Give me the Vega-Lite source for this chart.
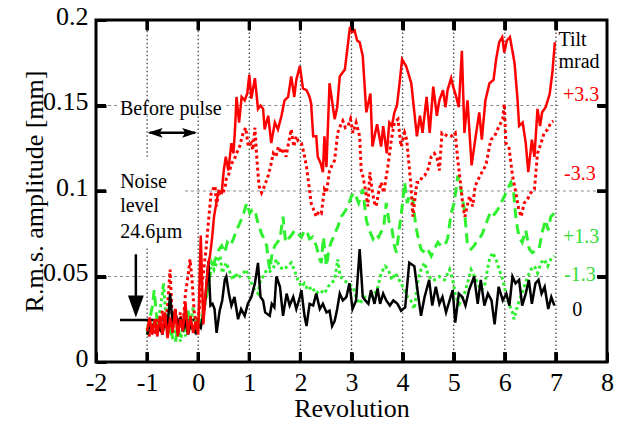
{
"$schema": "https://vega.github.io/schema/vega-lite/v6.json",
"width": 511, "height": 342,
"autosize": {"type": "none"},
"padding": {"left": 96, "top": 20, "right": 11, "bottom": 59},
"background": "white",
"config": {"view": {"stroke": "black", "strokeWidth": 3}, "font": "Liberation Serif"},
"resolve": {"axis": {"x": "independent", "y": "independent"}},
"datasets": {
"vgrid": [
{"x": -1, "y": 0, "y2": 0.0676}, {"x": -1, "y": 0.12, "y2": 0.144}, {"x": -1, "y": 0.153, "y2": 0.2},
{"x": 0, "y": 0, "y2": 0.144}, {"x": 0, "y": 0.153, "y2": 0.2},
{"x": 1, "y": 0, "y2": 0.2}, {"x": 2, "y": 0, "y2": 0.2}, {"x": 3, "y": 0, "y2": 0.2}, {"x": 4, "y": 0, "y2": 0.2},
{"x": 5, "y": 0, "y2": 0.2}, {"x": 6, "y": 0, "y2": 0.2}, {"x": 7, "y": 0, "y2": 0.2}
],
"hgrid": [
{"y": 0.15, "x": -2, "x2": -1.53}, {"y": 0.15, "x": 0.55, "x2": 7.05},
{"y": 0.1, "x": -0.26, "x2": 8},
{"y": 0.05, "x": -2, "x2": 7.05}
],
"tickmarks": [
{"x": -1, "x2": -1, "y": 0, "y2": 0.00585}, {"x": 0, "x2": 0, "y": 0, "y2": 0.00585}, {"x": 1, "x2": 1, "y": 0, "y2": 0.00585},
{"x": 2, "x2": 2, "y": 0, "y2": 0.00585}, {"x": 3, "x2": 3, "y": 0, "y2": 0.00585}, {"x": 4, "x2": 4, "y": 0, "y2": 0.00585},
{"x": 5, "x2": 5, "y": 0, "y2": 0.00585}, {"x": 6, "x2": 6, "y": 0, "y2": 0.00585}, {"x": 7, "x2": 7, "y": 0, "y2": 0.00585},
{"x": -1, "x2": -1, "y": 0.19415, "y2": 0.2}, {"x": 0, "x2": 0, "y": 0.19415, "y2": 0.2}, {"x": 1, "x2": 1, "y": 0.19415, "y2": 0.2},
{"x": 2, "x2": 2, "y": 0.19415, "y2": 0.2}, {"x": 3, "x2": 3, "y": 0.19415, "y2": 0.2}, {"x": 4, "x2": 4, "y": 0.19415, "y2": 0.2},
{"x": 5, "x2": 5, "y": 0.19415, "y2": 0.2}, {"x": 6, "x2": 6, "y": 0.19415, "y2": 0.2}, {"x": 7, "x2": 7, "y": 0.19415, "y2": 0.2},
{"x": -2, "x2": -1.805, "y": 0.05, "y2": 0.05}, {"x": -2, "x2": -1.805, "y": 0.1, "y2": 0.1}, {"x": -2, "x2": -1.805, "y": 0.15, "y2": 0.15},
{"x": 7.805, "x2": 8, "y": 0.05, "y2": 0.05}, {"x": 7.805, "x2": 8, "y": 0.1, "y2": 0.1}, {"x": 7.805, "x2": 8, "y": 0.15, "y2": 0.15}
],
"tk": [
{"o": "v", "x": -1, "y": 0.0029}, {"o": "v", "x": 0, "y": 0.0029}, {"o": "v", "x": 1, "y": 0.0029}, {"o": "v", "x": 2, "y": 0.0029}, {"o": "v", "x": 3, "y": 0.0029},
{"o": "v", "x": 4, "y": 0.0029}, {"o": "v", "x": 5, "y": 0.0029}, {"o": "v", "x": 6, "y": 0.0029}, {"o": "v", "x": 7, "y": 0.0029},
{"o": "v", "x": -1, "y": 0.1971}, {"o": "v", "x": 0, "y": 0.1971}, {"o": "v", "x": 1, "y": 0.1971}, {"o": "v", "x": 2, "y": 0.1971}, {"o": "v", "x": 3, "y": 0.1971},
{"o": "v", "x": 4, "y": 0.1971}, {"o": "v", "x": 5, "y": 0.1971}, {"o": "v", "x": 6, "y": 0.1971}, {"o": "v", "x": 7, "y": 0.1971},
{"o": "h", "x": -1.9025, "y": 0.05}, {"o": "h", "x": -1.9025, "y": 0.1}, {"o": "h", "x": -1.9025, "y": 0.15},
{"o": "h", "x": 7.9025, "y": 0.05}, {"o": "h", "x": 7.9025, "y": 0.1}, {"o": "h", "x": 7.9025, "y": 0.15}
],
"segs": [
{"k": "noise", "x": -1.53, "x2": 0.03, "y": 0.0246, "y2": 0.0246},
{"k": "pulse", "x": -0.95, "x2": -0.06, "y": 0.134, "y2": 0.134},
{"k": "down", "x": -1.22, "x2": -1.22, "y": 0.063, "y2": 0.036}
],
"heads": [
{"k": "left", "x": -0.99, "y": 0.134},
{"k": "right", "x": -0.02, "y": 0.134},
{"k": "down", "x": -1.22, "y": 0.026}
],
"notes": [
{"t": "Before pulse", "x": -1.53, "y": 0.1446, "g": "note"},
{"t": "Noise", "x": -1.527, "y": 0.1018, "g": "note"},
{"t": "level", "x": -1.527, "y": 0.0876, "g": "note"},
{"t": "24.6µm", "x": -1.527, "y": 0.0725, "g": "note"},
{"t": "Tilt", "x": 7.05, "y": 0.1846, "g": "note"},
{"t": "mrad", "x": 7.05, "y": 0.1721, "g": "note"},
{"t": "+3.3", "x": 7.14, "y": 0.1524, "g": "+3.3"},
{"t": "-3.3", "x": 7.16, "y": 0.1066, "g": "-3.3"},
{"t": "+1.3", "x": 7.14, "y": 0.0696, "g": "+1.3"},
{"t": "-1.3", "x": 7.16, "y": 0.0471, "g": "-1.3"},
{"t": "0", "x": 7.32, "y": 0.0267, "g": "0"}
],
"curves": [
{"s":"+3.3","x":-1.00,"y":0.018},{"s":"+3.3","x":-0.95,"y":0.026},{"s":"+3.3","x":-0.90,"y":0.016},{"s":"+3.3","x":-0.85,"y":0.025},{"s":"+3.3","x":-0.80,"y":0.015},{"s":"+3.3","x":-0.75,"y":0.027},{"s":"+3.3","x":-0.70,"y":0.016},{"s":"+3.3","x":-0.65,"y":0.029},{"s":"+3.3","x":-0.60,"y":0.014},{"s":"+3.3","x":-0.55,"y":0.026},{"s":"+3.3","x":-0.50,"y":0.017},{"s":"+3.3","x":-0.45,"y":0.031},{"s":"+3.3","x":-0.40,"y":0.015},{"s":"+3.3","x":-0.35,"y":0.025},{"s":"+3.3","x":-0.30,"y":0.018},{"s":"+3.3","x":-0.25,"y":0.035},{"s":"+3.3","x":-0.20,"y":0.016},{"s":"+3.3","x":-0.15,"y":0.027},{"s":"+3.3","x":-0.10,"y":0.017},{"s":"+3.3","x":-0.05,"y":0.024},{"s":"+3.3","x":0.00,"y":0.016},{"s":"+3.3","x":0.05,"y":0.074},{"s":"+3.3","x":0.10,"y":0.022},{"s":"+3.3","x":0.16,"y":0.046},{"s":"+3.3","x":0.20,"y":0.058},{"s":"+3.3","x":0.23,"y":0.062},{"s":"+3.3","x":0.27,"y":0.072},{"s":"+3.3","x":0.31,"y":0.085},{"s":"+3.3","x":0.36,"y":0.094},{"s":"+3.3","x":0.40,"y":0.100},{"s":"+3.3","x":0.46,"y":0.099},{"s":"+3.3","x":0.50,"y":0.112},{"s":"+3.3","x":0.54,"y":0.120},{"s":"+3.3","x":0.59,"y":0.112},{"s":"+3.3","x":0.65,"y":0.128},{"s":"+3.3","x":0.69,"y":0.122},{"s":"+3.3","x":0.72,"y":0.136},{"s":"+3.3","x":0.75,"y":0.155},{"s":"+3.3","x":0.80,"y":0.140},{"s":"+3.3","x":0.85,"y":0.155},{"s":"+3.3","x":0.91,"y":0.153},{"s":"+3.3","x":0.96,"y":0.157},{"s":"+3.3","x":1.00,"y":0.168},{"s":"+3.3","x":1.04,"y":0.154},{"s":"+3.3","x":1.11,"y":0.166},{"s":"+3.3","x":1.17,"y":0.148},{"s":"+3.3","x":1.22,"y":0.150},{"s":"+3.3","x":1.27,"y":0.148},{"s":"+3.3","x":1.30,"y":0.136},{"s":"+3.3","x":1.37,"y":0.144},{"s":"+3.3","x":1.43,"y":0.128},{"s":"+3.3","x":1.50,"y":0.140},{"s":"+3.3","x":1.56,"y":0.136},{"s":"+3.3","x":1.63,"y":0.144},{"s":"+3.3","x":1.69,"y":0.153},{"s":"+3.3","x":1.76,"y":0.155},{"s":"+3.3","x":1.82,"y":0.167},{"s":"+3.3","x":1.88,"y":0.155},{"s":"+3.3","x":1.92,"y":0.165},{"s":"+3.3","x":1.99,"y":0.173},{"s":"+3.3","x":2.05,"y":0.160},{"s":"+3.3","x":2.12,"y":0.159},{"s":"+3.3","x":2.18,"y":0.155},{"s":"+3.3","x":2.21,"y":0.151},{"s":"+3.3","x":2.25,"y":0.132},{"s":"+3.3","x":2.31,"y":0.132},{"s":"+3.3","x":2.34,"y":0.120},{"s":"+3.3","x":2.40,"y":0.116},{"s":"+3.3","x":2.44,"y":0.111},{"s":"+3.3","x":2.47,"y":0.132},{"s":"+3.3","x":2.51,"y":0.114},{"s":"+3.3","x":2.57,"y":0.163},{"s":"+3.3","x":2.67,"y":0.142},{"s":"+3.3","x":2.72,"y":0.149},{"s":"+3.3","x":2.77,"y":0.167},{"s":"+3.3","x":2.87,"y":0.171},{"s":"+3.3","x":2.97,"y":0.196},{"s":"+3.3","x":3.01,"y":0.193},{"s":"+3.3","x":3.06,"y":0.194},{"s":"+3.3","x":3.11,"y":0.188},{"s":"+3.3","x":3.16,"y":0.187},{"s":"+3.3","x":3.22,"y":0.179},{"s":"+3.3","x":3.29,"y":0.146},{"s":"+3.3","x":3.37,"y":0.157},{"s":"+3.3","x":3.41,"y":0.126},{"s":"+3.3","x":3.50,"y":0.139},{"s":"+3.3","x":3.58,"y":0.126},{"s":"+3.3","x":3.62,"y":0.138},{"s":"+3.3","x":3.69,"y":0.122},{"s":"+3.3","x":3.74,"y":0.140},{"s":"+3.3","x":3.79,"y":0.138},{"s":"+3.3","x":3.84,"y":0.146},{"s":"+3.3","x":3.89,"y":0.150},{"s":"+3.3","x":3.94,"y":0.163},{"s":"+3.3","x":3.99,"y":0.177},{"s":"+3.3","x":4.07,"y":0.173},{"s":"+3.3","x":4.17,"y":0.163},{"s":"+3.3","x":4.23,"y":0.146},{"s":"+3.3","x":4.28,"y":0.132},{"s":"+3.3","x":4.34,"y":0.144},{"s":"+3.3","x":4.39,"y":0.134},{"s":"+3.3","x":4.47,"y":0.155},{"s":"+3.3","x":4.53,"y":0.134},{"s":"+3.3","x":4.60,"y":0.161},{"s":"+3.3","x":4.67,"y":0.144},{"s":"+3.3","x":4.72,"y":0.153},{"s":"+3.3","x":4.79,"y":0.159},{"s":"+3.3","x":4.84,"y":0.149},{"s":"+3.3","x":4.88,"y":0.159},{"s":"+3.3","x":4.95,"y":0.166},{"s":"+3.3","x":4.99,"y":0.161},{"s":"+3.3","x":5.05,"y":0.155},{"s":"+3.3","x":5.10,"y":0.149},{"s":"+3.3","x":5.16,"y":0.182},{"s":"+3.3","x":5.21,"y":0.134},{"s":"+3.3","x":5.27,"y":0.153},{"s":"+3.3","x":5.35,"y":0.115},{"s":"+3.3","x":5.44,"y":0.134},{"s":"+3.3","x":5.50,"y":0.146},{"s":"+3.3","x":5.55,"y":0.130},{"s":"+3.3","x":5.62,"y":0.153},{"s":"+3.3","x":5.70,"y":0.163},{"s":"+3.3","x":5.78,"y":0.165},{"s":"+3.3","x":5.83,"y":0.177},{"s":"+3.3","x":5.89,"y":0.187},{"s":"+3.3","x":5.95,"y":0.190},{"s":"+3.3","x":5.99,"y":0.181},{"s":"+3.3","x":6.04,"y":0.188},{"s":"+3.3","x":6.10,"y":0.190},{"s":"+3.3","x":6.19,"y":0.175},{"s":"+3.3","x":6.25,"y":0.153},{"s":"+3.3","x":6.28,"y":0.138},{"s":"+3.3","x":6.35,"y":0.140},{"s":"+3.3","x":6.41,"y":0.128},{"s":"+3.3","x":6.46,"y":0.111},{"s":"+3.3","x":6.53,"y":0.130},{"s":"+3.3","x":6.58,"y":0.120},{"s":"+3.3","x":6.64,"y":0.148},{"s":"+3.3","x":6.69,"y":0.138},{"s":"+3.3","x":6.73,"y":0.146},{"s":"+3.3","x":6.80,"y":0.149},{"s":"+3.3","x":6.88,"y":0.157},{"s":"+3.3","x":6.93,"y":0.169},{"s":"+3.3","x":6.98,"y":0.187},
{"s":"-3.3","x":-1.00,"y":0.020},{"s":"-3.3","x":-0.95,"y":0.015},{"s":"-3.3","x":-0.90,"y":0.023},{"s":"-3.3","x":-0.85,"y":0.016},{"s":"-3.3","x":-0.80,"y":0.026},{"s":"-3.3","x":-0.75,"y":0.018},{"s":"-3.3","x":-0.70,"y":0.030},{"s":"-3.3","x":-0.65,"y":0.020},{"s":"-3.3","x":-0.60,"y":0.032},{"s":"-3.3","x":-0.55,"y":0.054},{"s":"-3.3","x":-0.50,"y":0.020},{"s":"-3.3","x":-0.45,"y":0.031},{"s":"-3.3","x":-0.40,"y":0.017},{"s":"-3.3","x":-0.35,"y":0.029},{"s":"-3.3","x":-0.30,"y":0.020},{"s":"-3.3","x":-0.25,"y":0.040},{"s":"-3.3","x":-0.20,"y":0.050},{"s":"-3.3","x":-0.16,"y":0.060},{"s":"-3.3","x":-0.12,"y":0.048},{"s":"-3.3","x":-0.08,"y":0.030},{"s":"-3.3","x":-0.04,"y":0.022},{"s":"-3.3","x":0.00,"y":0.025},{"s":"-3.3","x":0.05,"y":0.040},{"s":"-3.3","x":0.10,"y":0.052},{"s":"-3.3","x":0.15,"y":0.065},{"s":"-3.3","x":0.20,"y":0.082},{"s":"-3.3","x":0.25,"y":0.098},{"s":"-3.3","x":0.29,"y":0.101},{"s":"-3.3","x":0.33,"y":0.103},{"s":"-3.3","x":0.36,"y":0.091},{"s":"-3.3","x":0.40,"y":0.100},{"s":"-3.3","x":0.46,"y":0.098},{"s":"-3.3","x":0.52,"y":0.101},{"s":"-3.3","x":0.55,"y":0.107},{"s":"-3.3","x":0.60,"y":0.110},{"s":"-3.3","x":0.65,"y":0.116},{"s":"-3.3","x":0.70,"y":0.118},{"s":"-3.3","x":0.75,"y":0.122},{"s":"-3.3","x":0.81,"y":0.126},{"s":"-3.3","x":0.88,"y":0.134},{"s":"-3.3","x":0.93,"y":0.137},{"s":"-3.3","x":0.98,"y":0.126},{"s":"-3.3","x":1.04,"y":0.128},{"s":"-3.3","x":1.07,"y":0.124},{"s":"-3.3","x":1.11,"y":0.137},{"s":"-3.3","x":1.15,"y":0.118},{"s":"-3.3","x":1.19,"y":0.103},{"s":"-3.3","x":1.24,"y":0.099},{"s":"-3.3","x":1.30,"y":0.103},{"s":"-3.3","x":1.37,"y":0.109},{"s":"-3.3","x":1.42,"y":0.115},{"s":"-3.3","x":1.47,"y":0.122},{"s":"-3.3","x":1.52,"y":0.120},{"s":"-3.3","x":1.57,"y":0.126},{"s":"-3.3","x":1.62,"y":0.122},{"s":"-3.3","x":1.67,"y":0.125},{"s":"-3.3","x":1.72,"y":0.120},{"s":"-3.3","x":1.78,"y":0.130},{"s":"-3.3","x":1.82,"y":0.136},{"s":"-3.3","x":1.87,"y":0.126},{"s":"-3.3","x":1.92,"y":0.132},{"s":"-3.3","x":1.96,"y":0.129},{"s":"-3.3","x":2.02,"y":0.128},{"s":"-3.3","x":2.07,"y":0.122},{"s":"-3.3","x":2.12,"y":0.114},{"s":"-3.3","x":2.16,"y":0.105},{"s":"-3.3","x":2.21,"y":0.093},{"s":"-3.3","x":2.26,"y":0.089},{"s":"-3.3","x":2.31,"y":0.085},{"s":"-3.3","x":2.36,"y":0.088},{"s":"-3.3","x":2.41,"y":0.087},{"s":"-3.3","x":2.47,"y":0.101},{"s":"-3.3","x":2.51,"y":0.099},{"s":"-3.3","x":2.57,"y":0.112},{"s":"-3.3","x":2.62,"y":0.115},{"s":"-3.3","x":2.67,"y":0.118},{"s":"-3.3","x":2.73,"y":0.134},{"s":"-3.3","x":2.78,"y":0.138},{"s":"-3.3","x":2.83,"y":0.141},{"s":"-3.3","x":2.88,"y":0.137},{"s":"-3.3","x":2.93,"y":0.138},{"s":"-3.3","x":2.98,"y":0.142},{"s":"-3.3","x":3.03,"y":0.134},{"s":"-3.3","x":3.09,"y":0.140},{"s":"-3.3","x":3.16,"y":0.132},{"s":"-3.3","x":3.19,"y":0.112},{"s":"-3.3","x":3.22,"y":0.109},{"s":"-3.3","x":3.26,"y":0.103},{"s":"-3.3","x":3.30,"y":0.095},{"s":"-3.3","x":3.32,"y":0.091},{"s":"-3.3","x":3.36,"y":0.111},{"s":"-3.3","x":3.40,"y":0.101},{"s":"-3.3","x":3.45,"y":0.093},{"s":"-3.3","x":3.48,"y":0.091},{"s":"-3.3","x":3.53,"y":0.099},{"s":"-3.3","x":3.58,"y":0.105},{"s":"-3.3","x":3.63,"y":0.099},{"s":"-3.3","x":3.71,"y":0.114},{"s":"-3.3","x":3.78,"y":0.130},{"s":"-3.3","x":3.84,"y":0.140},{"s":"-3.3","x":3.91,"y":0.142},{"s":"-3.3","x":3.97,"y":0.126},{"s":"-3.3","x":4.04,"y":0.134},{"s":"-3.3","x":4.08,"y":0.130},{"s":"-3.3","x":4.13,"y":0.114},{"s":"-3.3","x":4.17,"y":0.101},{"s":"-3.3","x":4.20,"y":0.085},{"s":"-3.3","x":4.24,"y":0.095},{"s":"-3.3","x":4.28,"y":0.105},{"s":"-3.3","x":4.33,"y":0.105},{"s":"-3.3","x":4.38,"y":0.108},{"s":"-3.3","x":4.43,"y":0.109},{"s":"-3.3","x":4.49,"y":0.112},{"s":"-3.3","x":4.56,"y":0.120},{"s":"-3.3","x":4.62,"y":0.122},{"s":"-3.3","x":4.67,"y":0.120},{"s":"-3.3","x":4.72,"y":0.112},{"s":"-3.3","x":4.77,"y":0.134},{"s":"-3.3","x":4.83,"y":0.133},{"s":"-3.3","x":4.88,"y":0.132},{"s":"-3.3","x":4.95,"y":0.132},{"s":"-3.3","x":5.03,"y":0.134},{"s":"-3.3","x":5.08,"y":0.118},{"s":"-3.3","x":5.14,"y":0.103},{"s":"-3.3","x":5.18,"y":0.091},{"s":"-3.3","x":5.22,"y":0.085},{"s":"-3.3","x":5.27,"y":0.092},{"s":"-3.3","x":5.31,"y":0.097},{"s":"-3.3","x":5.37,"y":0.091},{"s":"-3.3","x":5.42,"y":0.103},{"s":"-3.3","x":5.50,"y":0.108},{"s":"-3.3","x":5.57,"y":0.112},{"s":"-3.3","x":5.63,"y":0.115},{"s":"-3.3","x":5.70,"y":0.126},{"s":"-3.3","x":5.73,"y":0.130},{"s":"-3.3","x":5.80,"y":0.132},{"s":"-3.3","x":5.89,"y":0.138},{"s":"-3.3","x":5.96,"y":0.142},{"s":"-3.3","x":5.99,"y":0.151},{"s":"-3.3","x":6.02,"y":0.128},{"s":"-3.3","x":6.08,"y":0.126},{"s":"-3.3","x":6.15,"y":0.109},{"s":"-3.3","x":6.21,"y":0.100},{"s":"-3.3","x":6.27,"y":0.090},{"s":"-3.3","x":6.32,"y":0.085},{"s":"-3.3","x":6.38,"y":0.093},{"s":"-3.3","x":6.44,"y":0.095},{"s":"-3.3","x":6.51,"y":0.099},{"s":"-3.3","x":6.58,"y":0.101},{"s":"-3.3","x":6.64,"y":0.122},{"s":"-3.3","x":6.71,"y":0.128},{"s":"-3.3","x":6.77,"y":0.134},{"s":"-3.3","x":6.84,"y":0.136},{"s":"-3.3","x":6.90,"y":0.140},{"s":"-3.3","x":6.95,"y":0.141},
{"s":"+1.3","x":-1.00,"y":0.018},{"s":"+1.3","x":-0.95,"y":0.025},{"s":"+1.3","x":-0.90,"y":0.032},{"s":"+1.3","x":-0.86,"y":0.042},{"s":"+1.3","x":-0.82,"y":0.028},{"s":"+1.3","x":-0.78,"y":0.020},{"s":"+1.3","x":-0.74,"y":0.026},{"s":"+1.3","x":-0.70,"y":0.018},{"s":"+1.3","x":-0.65,"y":0.024},{"s":"+1.3","x":-0.60,"y":0.016},{"s":"+1.3","x":-0.55,"y":0.022},{"s":"+1.3","x":-0.50,"y":0.014},{"s":"+1.3","x":-0.45,"y":0.011},{"s":"+1.3","x":-0.40,"y":0.020},{"s":"+1.3","x":-0.35,"y":0.015},{"s":"+1.3","x":-0.30,"y":0.024},{"s":"+1.3","x":-0.25,"y":0.018},{"s":"+1.3","x":-0.20,"y":0.030},{"s":"+1.3","x":-0.15,"y":0.022},{"s":"+1.3","x":-0.10,"y":0.019},{"s":"+1.3","x":-0.05,"y":0.024},{"s":"+1.3","x":0.00,"y":0.018},{"s":"+1.3","x":0.05,"y":0.026},{"s":"+1.3","x":0.10,"y":0.030},{"s":"+1.3","x":0.16,"y":0.038},{"s":"+1.3","x":0.21,"y":0.048},{"s":"+1.3","x":0.26,"y":0.055},{"s":"+1.3","x":0.31,"y":0.058},{"s":"+1.3","x":0.36,"y":0.062},{"s":"+1.3","x":0.41,"y":0.066},{"s":"+1.3","x":0.46,"y":0.068},{"s":"+1.3","x":0.52,"y":0.064},{"s":"+1.3","x":0.57,"y":0.070},{"s":"+1.3","x":0.63,"y":0.068},{"s":"+1.3","x":0.69,"y":0.072},{"s":"+1.3","x":0.75,"y":0.077},{"s":"+1.3","x":0.81,"y":0.081},{"s":"+1.3","x":0.88,"y":0.086},{"s":"+1.3","x":0.95,"y":0.093},{"s":"+1.3","x":1.01,"y":0.087},{"s":"+1.3","x":1.06,"y":0.089},{"s":"+1.3","x":1.11,"y":0.089},{"s":"+1.3","x":1.17,"y":0.081},{"s":"+1.3","x":1.24,"y":0.075},{"s":"+1.3","x":1.29,"y":0.072},{"s":"+1.3","x":1.34,"y":0.068},{"s":"+1.3","x":1.37,"y":0.060},{"s":"+1.3","x":1.40,"y":0.054},{"s":"+1.3","x":1.45,"y":0.064},{"s":"+1.3","x":1.50,"y":0.068},{"s":"+1.3","x":1.55,"y":0.070},{"s":"+1.3","x":1.60,"y":0.072},{"s":"+1.3","x":1.66,"y":0.085},{"s":"+1.3","x":1.71,"y":0.070},{"s":"+1.3","x":1.76,"y":0.072},{"s":"+1.3","x":1.82,"y":0.074},{"s":"+1.3","x":1.89,"y":0.077},{"s":"+1.3","x":1.95,"y":0.075},{"s":"+1.3","x":2.02,"y":0.073},{"s":"+1.3","x":2.08,"y":0.077},{"s":"+1.3","x":2.13,"y":0.076},{"s":"+1.3","x":2.18,"y":0.072},{"s":"+1.3","x":2.24,"y":0.073},{"s":"+1.3","x":2.31,"y":0.068},{"s":"+1.3","x":2.38,"y":0.060},{"s":"+1.3","x":2.41,"y":0.058},{"s":"+1.3","x":2.45,"y":0.073},{"s":"+1.3","x":2.51,"y":0.056},{"s":"+1.3","x":2.56,"y":0.066},{"s":"+1.3","x":2.60,"y":0.070},{"s":"+1.3","x":2.67,"y":0.075},{"s":"+1.3","x":2.73,"y":0.079},{"s":"+1.3","x":2.80,"y":0.085},{"s":"+1.3","x":2.87,"y":0.088},{"s":"+1.3","x":2.93,"y":0.091},{"s":"+1.3","x":3.00,"y":0.097},{"s":"+1.3","x":3.06,"y":0.099},{"s":"+1.3","x":3.14,"y":0.093},{"s":"+1.3","x":3.22,"y":0.101},{"s":"+1.3","x":3.29,"y":0.083},{"s":"+1.3","x":3.35,"y":0.077},{"s":"+1.3","x":3.42,"y":0.072},{"s":"+1.3","x":3.48,"y":0.075},{"s":"+1.3","x":3.53,"y":0.073},{"s":"+1.3","x":3.58,"y":0.076},{"s":"+1.3","x":3.63,"y":0.079},{"s":"+1.3","x":3.68,"y":0.093},{"s":"+1.3","x":3.74,"y":0.081},{"s":"+1.3","x":3.79,"y":0.078},{"s":"+1.3","x":3.84,"y":0.068},{"s":"+1.3","x":3.88,"y":0.064},{"s":"+1.3","x":3.94,"y":0.079},{"s":"+1.3","x":4.00,"y":0.093},{"s":"+1.3","x":4.04,"y":0.105},{"s":"+1.3","x":4.09,"y":0.093},{"s":"+1.3","x":4.14,"y":0.098},{"s":"+1.3","x":4.20,"y":0.095},{"s":"+1.3","x":4.26,"y":0.079},{"s":"+1.3","x":4.31,"y":0.072},{"s":"+1.3","x":4.36,"y":0.066},{"s":"+1.3","x":4.43,"y":0.064},{"s":"+1.3","x":4.49,"y":0.066},{"s":"+1.3","x":4.56,"y":0.062},{"s":"+1.3","x":4.62,"y":0.066},{"s":"+1.3","x":4.69,"y":0.070},{"s":"+1.3","x":4.75,"y":0.068},{"s":"+1.3","x":4.82,"y":0.068},{"s":"+1.3","x":4.88,"y":0.072},{"s":"+1.3","x":4.95,"y":0.087},{"s":"+1.3","x":5.01,"y":0.093},{"s":"+1.3","x":5.08,"y":0.109},{"s":"+1.3","x":5.14,"y":0.101},{"s":"+1.3","x":5.21,"y":0.089},{"s":"+1.3","x":5.27,"y":0.068},{"s":"+1.3","x":5.34,"y":0.066},{"s":"+1.3","x":5.40,"y":0.068},{"s":"+1.3","x":5.44,"y":0.070},{"s":"+1.3","x":5.50,"y":0.072},{"s":"+1.3","x":5.56,"y":0.075},{"s":"+1.3","x":5.61,"y":0.079},{"s":"+1.3","x":5.66,"y":0.083},{"s":"+1.3","x":5.71,"y":0.087},{"s":"+1.3","x":5.76,"y":0.085},{"s":"+1.3","x":5.81,"y":0.087},{"s":"+1.3","x":5.86,"y":0.089},{"s":"+1.3","x":5.91,"y":0.092},{"s":"+1.3","x":5.96,"y":0.095},{"s":"+1.3","x":6.01,"y":0.098},{"s":"+1.3","x":6.05,"y":0.101},{"s":"+1.3","x":6.12,"y":0.105},{"s":"+1.3","x":6.17,"y":0.100},{"s":"+1.3","x":6.22,"y":0.083},{"s":"+1.3","x":6.28,"y":0.073},{"s":"+1.3","x":6.34,"y":0.070},{"s":"+1.3","x":6.41,"y":0.077},{"s":"+1.3","x":6.48,"y":0.066},{"s":"+1.3","x":6.54,"y":0.064},{"s":"+1.3","x":6.61,"y":0.065},{"s":"+1.3","x":6.67,"y":0.066},{"s":"+1.3","x":6.74,"y":0.077},{"s":"+1.3","x":6.80,"y":0.083},{"s":"+1.3","x":6.85,"y":0.077},{"s":"+1.3","x":6.90,"y":0.085},{"s":"+1.3","x":6.97,"y":0.087},
{"s":"-1.3","x":-1.00,"y":0.016},{"s":"-1.3","x":-0.95,"y":0.022},{"s":"-1.3","x":-0.90,"y":0.018},{"s":"-1.3","x":-0.85,"y":0.025},{"s":"-1.3","x":-0.80,"y":0.020},{"s":"-1.3","x":-0.75,"y":0.030},{"s":"-1.3","x":-0.70,"y":0.040},{"s":"-1.3","x":-0.68,"y":0.046},{"s":"-1.3","x":-0.64,"y":0.030},{"s":"-1.3","x":-0.60,"y":0.022},{"s":"-1.3","x":-0.55,"y":0.018},{"s":"-1.3","x":-0.50,"y":0.025},{"s":"-1.3","x":-0.45,"y":0.016},{"s":"-1.3","x":-0.40,"y":0.022},{"s":"-1.3","x":-0.35,"y":0.012},{"s":"-1.3","x":-0.30,"y":0.020},{"s":"-1.3","x":-0.25,"y":0.015},{"s":"-1.3","x":-0.20,"y":0.028},{"s":"-1.3","x":-0.15,"y":0.022},{"s":"-1.3","x":-0.10,"y":0.032},{"s":"-1.3","x":-0.05,"y":0.024},{"s":"-1.3","x":0.00,"y":0.020},{"s":"-1.3","x":0.05,"y":0.024},{"s":"-1.3","x":0.10,"y":0.030},{"s":"-1.3","x":0.15,"y":0.038},{"s":"-1.3","x":0.20,"y":0.050},{"s":"-1.3","x":0.26,"y":0.058},{"s":"-1.3","x":0.31,"y":0.054},{"s":"-1.3","x":0.36,"y":0.058},{"s":"-1.3","x":0.39,"y":0.060},{"s":"-1.3","x":0.43,"y":0.062},{"s":"-1.3","x":0.47,"y":0.052},{"s":"-1.3","x":0.55,"y":0.058},{"s":"-1.3","x":0.60,"y":0.054},{"s":"-1.3","x":0.68,"y":0.048},{"s":"-1.3","x":0.73,"y":0.052},{"s":"-1.3","x":0.78,"y":0.049},{"s":"-1.3","x":0.88,"y":0.052},{"s":"-1.3","x":0.94,"y":0.054},{"s":"-1.3","x":1.01,"y":0.048},{"s":"-1.3","x":1.06,"y":0.045},{"s":"-1.3","x":1.11,"y":0.042},{"s":"-1.3","x":1.17,"y":0.040},{"s":"-1.3","x":1.22,"y":0.048},{"s":"-1.3","x":1.27,"y":0.050},{"s":"-1.3","x":1.34,"y":0.054},{"s":"-1.3","x":1.40,"y":0.053},{"s":"-1.3","x":1.47,"y":0.055},{"s":"-1.3","x":1.53,"y":0.060},{"s":"-1.3","x":1.59,"y":0.056},{"s":"-1.3","x":1.66,"y":0.054},{"s":"-1.3","x":1.75,"y":0.056},{"s":"-1.3","x":1.82,"y":0.058},{"s":"-1.3","x":1.88,"y":0.054},{"s":"-1.3","x":1.95,"y":0.048},{"s":"-1.3","x":2.02,"y":0.044},{"s":"-1.3","x":2.08,"y":0.046},{"s":"-1.3","x":2.15,"y":0.042},{"s":"-1.3","x":2.22,"y":0.044},{"s":"-1.3","x":2.31,"y":0.040},{"s":"-1.3","x":2.38,"y":0.042},{"s":"-1.3","x":2.47,"y":0.040},{"s":"-1.3","x":2.54,"y":0.044},{"s":"-1.3","x":2.60,"y":0.046},{"s":"-1.3","x":2.67,"y":0.048},{"s":"-1.3","x":2.73,"y":0.060},{"s":"-1.3","x":2.78,"y":0.050},{"s":"-1.3","x":2.85,"y":0.048},{"s":"-1.3","x":2.93,"y":0.046},{"s":"-1.3","x":3.03,"y":0.044},{"s":"-1.3","x":3.09,"y":0.038},{"s":"-1.3","x":3.16,"y":0.034},{"s":"-1.3","x":3.25,"y":0.038},{"s":"-1.3","x":3.35,"y":0.038},{"s":"-1.3","x":3.45,"y":0.040},{"s":"-1.3","x":3.50,"y":0.042},{"s":"-1.3","x":3.58,"y":0.052},{"s":"-1.3","x":3.66,"y":0.056},{"s":"-1.3","x":3.72,"y":0.054},{"s":"-1.3","x":3.79,"y":0.048},{"s":"-1.3","x":3.86,"y":0.052},{"s":"-1.3","x":3.97,"y":0.046},{"s":"-1.3","x":4.04,"y":0.042},{"s":"-1.3","x":4.10,"y":0.038},{"s":"-1.3","x":4.16,"y":0.036},{"s":"-1.3","x":4.23,"y":0.031},{"s":"-1.3","x":4.30,"y":0.048},{"s":"-1.3","x":4.36,"y":0.054},{"s":"-1.3","x":4.43,"y":0.058},{"s":"-1.3","x":4.49,"y":0.052},{"s":"-1.3","x":4.56,"y":0.048},{"s":"-1.3","x":4.62,"y":0.048},{"s":"-1.3","x":4.72,"y":0.050},{"s":"-1.3","x":4.82,"y":0.048},{"s":"-1.3","x":4.92,"y":0.054},{"s":"-1.3","x":4.98,"y":0.048},{"s":"-1.3","x":5.04,"y":0.038},{"s":"-1.3","x":5.11,"y":0.034},{"s":"-1.3","x":5.21,"y":0.040},{"s":"-1.3","x":5.27,"y":0.046},{"s":"-1.3","x":5.34,"y":0.054},{"s":"-1.3","x":5.44,"y":0.048},{"s":"-1.3","x":5.53,"y":0.042},{"s":"-1.3","x":5.60,"y":0.044},{"s":"-1.3","x":5.66,"y":0.054},{"s":"-1.3","x":5.70,"y":0.060},{"s":"-1.3","x":5.76,"y":0.064},{"s":"-1.3","x":5.83,"y":0.060},{"s":"-1.3","x":5.89,"y":0.054},{"s":"-1.3","x":5.96,"y":0.048},{"s":"-1.3","x":6.02,"y":0.040},{"s":"-1.3","x":6.08,"y":0.034},{"s":"-1.3","x":6.15,"y":0.029},{"s":"-1.3","x":6.18,"y":0.025},{"s":"-1.3","x":6.25,"y":0.033},{"s":"-1.3","x":6.31,"y":0.038},{"s":"-1.3","x":6.38,"y":0.044},{"s":"-1.3","x":6.45,"y":0.050},{"s":"-1.3","x":6.51,"y":0.054},{"s":"-1.3","x":6.58,"y":0.056},{"s":"-1.3","x":6.64,"y":0.052},{"s":"-1.3","x":6.71,"y":0.058},{"s":"-1.3","x":6.77,"y":0.060},{"s":"-1.3","x":6.84,"y":0.056},{"s":"-1.3","x":6.90,"y":0.060},{"s":"-1.3","x":6.97,"y":0.062},
{"s":"0","x":-1.00,"y":0.016},{"s":"0","x":-0.95,"y":0.022},{"s":"0","x":-0.90,"y":0.018},{"s":"0","x":-0.85,"y":0.024},{"s":"0","x":-0.80,"y":0.017},{"s":"0","x":-0.75,"y":0.021},{"s":"0","x":-0.70,"y":0.016},{"s":"0","x":-0.65,"y":0.025},{"s":"0","x":-0.60,"y":0.020},{"s":"0","x":-0.55,"y":0.040},{"s":"0","x":-0.50,"y":0.022},{"s":"0","x":-0.45,"y":0.030},{"s":"0","x":-0.40,"y":0.020},{"s":"0","x":-0.35,"y":0.026},{"s":"0","x":-0.30,"y":0.018},{"s":"0","x":-0.25,"y":0.024},{"s":"0","x":-0.20,"y":0.016},{"s":"0","x":-0.15,"y":0.022},{"s":"0","x":-0.10,"y":0.019},{"s":"0","x":-0.05,"y":0.017},{"s":"0","x":0.00,"y":0.022},{"s":"0","x":0.05,"y":0.020},{"s":"0","x":0.10,"y":0.028},{"s":"0","x":0.13,"y":0.033},{"s":"0","x":0.20,"y":0.059},{"s":"0","x":0.24,"y":0.033},{"s":"0","x":0.28,"y":0.034},{"s":"0","x":0.32,"y":0.031},{"s":"0","x":0.36,"y":0.017},{"s":"0","x":0.42,"y":0.030},{"s":"0","x":0.47,"y":0.036},{"s":"0","x":0.52,"y":0.048},{"s":"0","x":0.55,"y":0.050},{"s":"0","x":0.60,"y":0.040},{"s":"0","x":0.65,"y":0.033},{"s":"0","x":0.71,"y":0.038},{"s":"0","x":0.78,"y":0.025},{"s":"0","x":0.84,"y":0.031},{"s":"0","x":0.91,"y":0.027},{"s":"0","x":0.97,"y":0.034},{"s":"0","x":1.04,"y":0.038},{"s":"0","x":1.11,"y":0.046},{"s":"0","x":1.17,"y":0.058},{"s":"0","x":1.22,"y":0.038},{"s":"0","x":1.27,"y":0.036},{"s":"0","x":1.31,"y":0.029},{"s":"0","x":1.40,"y":0.027},{"s":"0","x":1.44,"y":0.034},{"s":"0","x":1.49,"y":0.032},{"s":"0","x":1.53,"y":0.050},{"s":"0","x":1.60,"y":0.044},{"s":"0","x":1.66,"y":0.027},{"s":"0","x":1.73,"y":0.040},{"s":"0","x":1.79,"y":0.033},{"s":"0","x":1.86,"y":0.038},{"s":"0","x":1.92,"y":0.031},{"s":"0","x":1.99,"y":0.038},{"s":"0","x":2.02,"y":0.042},{"s":"0","x":2.08,"y":0.027},{"s":"0","x":2.12,"y":0.021},{"s":"0","x":2.18,"y":0.034},{"s":"0","x":2.25,"y":0.033},{"s":"0","x":2.31,"y":0.040},{"s":"0","x":2.38,"y":0.031},{"s":"0","x":2.44,"y":0.034},{"s":"0","x":2.51,"y":0.029},{"s":"0","x":2.57,"y":0.030},{"s":"0","x":2.62,"y":0.021},{"s":"0","x":2.67,"y":0.024},{"s":"0","x":2.72,"y":0.031},{"s":"0","x":2.77,"y":0.040},{"s":"0","x":2.83,"y":0.036},{"s":"0","x":2.90,"y":0.038},{"s":"0","x":2.96,"y":0.046},{"s":"0","x":3.02,"y":0.031},{"s":"0","x":3.09,"y":0.036},{"s":"0","x":3.16,"y":0.066},{"s":"0","x":3.22,"y":0.038},{"s":"0","x":3.27,"y":0.036},{"s":"0","x":3.33,"y":0.034},{"s":"0","x":3.38,"y":0.042},{"s":"0","x":3.45,"y":0.034},{"s":"0","x":3.51,"y":0.043},{"s":"0","x":3.56,"y":0.034},{"s":"0","x":3.62,"y":0.040},{"s":"0","x":3.68,"y":0.036},{"s":"0","x":3.75,"y":0.033},{"s":"0","x":3.82,"y":0.036},{"s":"0","x":3.90,"y":0.034},{"s":"0","x":3.97,"y":0.030},{"s":"0","x":4.05,"y":0.032},{"s":"0","x":4.13,"y":0.058},{"s":"0","x":4.23,"y":0.056},{"s":"0","x":4.30,"y":0.040},{"s":"0","x":4.36,"y":0.027},{"s":"0","x":4.43,"y":0.038},{"s":"0","x":4.52,"y":0.048},{"s":"0","x":4.58,"y":0.033},{"s":"0","x":4.65,"y":0.044},{"s":"0","x":4.72,"y":0.034},{"s":"0","x":4.78,"y":0.038},{"s":"0","x":4.85,"y":0.029},{"s":"0","x":4.92,"y":0.036},{"s":"0","x":4.98,"y":0.042},{"s":"0","x":5.03,"y":0.023},{"s":"0","x":5.10,"y":0.040},{"s":"0","x":5.17,"y":0.038},{"s":"0","x":5.23,"y":0.033},{"s":"0","x":5.30,"y":0.042},{"s":"0","x":5.40,"y":0.050},{"s":"0","x":5.47,"y":0.034},{"s":"0","x":5.53,"y":0.048},{"s":"0","x":5.60,"y":0.033},{"s":"0","x":5.67,"y":0.040},{"s":"0","x":5.74,"y":0.036},{"s":"0","x":5.80,"y":0.022},{"s":"0","x":5.88,"y":0.044},{"s":"0","x":5.96,"y":0.036},{"s":"0","x":6.03,"y":0.040},{"s":"0","x":6.09,"y":0.033},{"s":"0","x":6.15,"y":0.050},{"s":"0","x":6.21,"y":0.046},{"s":"0","x":6.28,"y":0.048},{"s":"0","x":6.34,"y":0.033},{"s":"0","x":6.41,"y":0.040},{"s":"0","x":6.47,"y":0.048},{"s":"0","x":6.53,"y":0.034},{"s":"0","x":6.60,"y":0.046},{"s":"0","x":6.66,"y":0.048},{"s":"0","x":6.72,"y":0.040},{"s":"0","x":6.78,"y":0.044},{"s":"0","x":6.85,"y":0.031},{"s":"0","x":6.91,"y":0.038},{"s":"0","x":6.97,"y":0.033}
]
},
"layer": [
{"data": {"name": "tickmarks"},
 "mark": {"type": "rule", "color": "black", "strokeWidth": 3, "strokeCap": "butt"},
 "encoding": {
  "x": {"field": "x", "type": "quantitative", "scale": {"domain": [-2, 8], "nice": false, "zero": false},
   "axis": {"orient": "bottom", "zindex": 1, "offset": -10, "values": [-2,-1,0,1,2,3,4,5,6,7,8], "labelExpr": "datum.value < 0 ? '-' + abs(datum.value) : '' + datum.value",
    "title": "Revolution", "titleFont": "Liberation Serif", "titleFontSize": 26, "titleFontWeight": "normal", "titleColor": "black", "titleBaseline": "alphabetic", "titleY": 64,
    "labelFont": "Liberation Serif", "labelFontSize": 26, "labelColor": "black", "labelPadding": 7, "labelFlush": false, "labelOverlap": false,
    "ticks": true, "tickSize": 10, "tickWidth": 3, "tickColor": "black", "tickOpacity": 1, "domain": false, "grid": false}},
  "x2": {"field": "x2"},
  "y": {"field": "y", "type": "quantitative", "scale": {"domain": [0, 0.2], "nice": false, "zero": false},
   "axis": {"orient": "left", "zindex": 1, "offset": -10, "values": [0, 0.05, 0.1, 0.15, 0.2], "format": "~g",
    "title": "R.m.s. amplitude  [mm]", "titleFont": "Liberation Serif", "titleFontSize": 26, "titleFontWeight": "normal", "titleColor": "black", "titleBaseline": "alphabetic", "titleX": -64,
    "labelFont": "Liberation Serif", "labelFontSize": 26, "labelColor": "black", "labelPadding": 8, "labelOffset": -4, "labelFlush": false, "labelOverlap": false,
    "ticks": true, "tickSize": 10, "tickWidth": 3, "tickColor": "black", "tickOpacity": 1, "domain": false, "grid": false}},
  "y2": {"field": "y2"}}},
{"data": {"name": "hgrid"},
 "mark": {"type": "rule", "color": "#8a8a8a", "strokeWidth": 1, "strokeDash": [3, 3]},
 "encoding": {
  "x": {"field": "x", "type": "quantitative", "scale": {"domain": [-2, 8], "nice": false, "zero": false},
   "axis": {"orient": "top", "zindex": 1, "offset": -10, "values": [-1,0,1,2,3,4,5,6,7], "labels": false, "title": null, "ticks": true, "tickSize": 10, "tickWidth": 3, "tickColor": "black", "tickOpacity": 1, "domain": false, "grid": false}},
  "x2": {"field": "x2"},
  "y": {"field": "y", "type": "quantitative", "scale": {"domain": [0, 0.2], "nice": false, "zero": false},
   "axis": {"orient": "right", "zindex": 1, "offset": -10, "values": [0.05, 0.1, 0.15], "labels": false, "title": null, "ticks": true, "tickSize": 10, "tickWidth": 3, "tickColor": "black", "tickOpacity": 1, "domain": false, "grid": false}}}},
{"data": {"name": "tk"}, "transform": [{"filter": "datum.o === 'v'"}],
 "mark": {"type": "tick", "orient": "vertical", "color": "black", "size": 10, "thickness": 3, "opacity": 1},
 "encoding": {
  "x": {"field": "x", "type": "quantitative", "scale": {"domain": [-2, 8], "nice": false, "zero": false}, "axis": null},
  "y": {"field": "y", "type": "quantitative", "scale": {"domain": [0, 0.2], "nice": false, "zero": false}, "axis": null}}},
{"data": {"name": "tk"}, "transform": [{"filter": "datum.o === 'h'"}],
 "mark": {"type": "tick", "orient": "horizontal", "color": "black", "size": 10, "thickness": 3, "opacity": 1},
 "encoding": {
  "x": {"field": "x", "type": "quantitative", "scale": {"domain": [-2, 8], "nice": false, "zero": false}, "axis": null},
  "y": {"field": "y", "type": "quantitative", "scale": {"domain": [0, 0.2], "nice": false, "zero": false}, "axis": null}}},
{"data": {"name": "vgrid"},
 "mark": {"type": "rule", "color": "#444444", "strokeWidth": 1.3, "strokeDash": [1.5, 2.5]},
 "encoding": {
  "x": {"field": "x", "type": "quantitative", "scale": {"domain": [-2, 8], "nice": false, "zero": false}, "axis": null},
  "y": {"field": "y", "type": "quantitative", "scale": {"domain": [0, 0.2], "nice": false, "zero": false}, "axis": null},
  "y2": {"field": "y2"}}},
{"data": {"name": "segs"},
 "mark": {"type": "rule", "color": "black", "strokeWidth": 2.5},
 "encoding": {
  "x": {"field": "x", "type": "quantitative", "scale": {"domain": [-2, 8], "nice": false, "zero": false}, "axis": null},
  "x2": {"field": "x2"},
  "y": {"field": "y", "type": "quantitative", "scale": {"domain": [0, 0.2], "nice": false, "zero": false}, "axis": null},
  "y2": {"field": "y2"}}},
{"data": {"name": "heads"}, "transform": [{"filter": "datum.k === 'left'"}],
 "mark": {"type": "point", "shape": "M0,0L1,-0.32L0.8,0L1,0.32Z", "size": 900, "filled": true, "color": "black", "opacity": 1, "strokeWidth": 0},
 "encoding": {
  "x": {"field": "x", "type": "quantitative", "scale": {"domain": [-2, 8], "nice": false, "zero": false}, "axis": null},
  "y": {"field": "y", "type": "quantitative", "scale": {"domain": [0, 0.2], "nice": false, "zero": false}, "axis": null}}},
{"data": {"name": "heads"}, "transform": [{"filter": "datum.k === 'right'"}],
 "mark": {"type": "point", "shape": "M0,0L-1,-0.32L-0.8,0L-1,0.32Z", "size": 900, "filled": true, "color": "black", "opacity": 1, "strokeWidth": 0},
 "encoding": {
  "x": {"field": "x", "type": "quantitative", "scale": {"domain": [-2, 8], "nice": false, "zero": false}, "axis": null},
  "y": {"field": "y", "type": "quantitative", "scale": {"domain": [0, 0.2], "nice": false, "zero": false}, "axis": null}}},
{"data": {"name": "heads"}, "transform": [{"filter": "datum.k === 'down'"}],
 "mark": {"type": "point", "shape": "M0,0L-0.36,-1L0.36,-1Z", "size": 1936, "filled": true, "color": "black", "opacity": 1, "strokeWidth": 0},
 "encoding": {
  "x": {"field": "x", "type": "quantitative", "scale": {"domain": [-2, 8], "nice": false, "zero": false}, "axis": null},
  "y": {"field": "y", "type": "quantitative", "scale": {"domain": [0, 0.2], "nice": false, "zero": false}, "axis": null}}},
{"data": {"name": "curves"}, "transform": [{"filter": "datum.s === '-1.3'"}],
 "mark": {"type": "line", "color": "#2ef02e", "strokeWidth": 3, "strokeDash": [3, 3]},
 "encoding": {
  "x": {"field": "x", "type": "quantitative", "scale": {"domain": [-2, 8], "nice": false, "zero": false}, "axis": null},
  "y": {"field": "y", "type": "quantitative", "scale": {"domain": [0, 0.2], "nice": false, "zero": false}, "axis": null}}},
{"data": {"name": "curves"}, "transform": [{"filter": "datum.s === '+1.3'"}],
 "mark": {"type": "line", "color": "#2ef02e", "strokeWidth": 3, "strokeDash": [10, 6]},
 "encoding": {
  "x": {"field": "x", "type": "quantitative", "scale": {"domain": [-2, 8], "nice": false, "zero": false}, "axis": null},
  "y": {"field": "y", "type": "quantitative", "scale": {"domain": [0, 0.2], "nice": false, "zero": false}, "axis": null}}},
{"data": {"name": "curves"}, "transform": [{"filter": "datum.s === '-3.3'"}],
 "mark": {"type": "line", "color": "#ff0000", "strokeWidth": 3, "strokeDash": [3, 3]},
 "encoding": {
  "x": {"field": "x", "type": "quantitative", "scale": {"domain": [-2, 8], "nice": false, "zero": false}, "axis": null},
  "y": {"field": "y", "type": "quantitative", "scale": {"domain": [0, 0.2], "nice": false, "zero": false}, "axis": null}}},
{"data": {"name": "curves"}, "transform": [{"filter": "datum.s === '0'"}],
 "mark": {"type": "line", "color": "black", "strokeWidth": 2.5},
 "encoding": {
  "x": {"field": "x", "type": "quantitative", "scale": {"domain": [-2, 8], "nice": false, "zero": false}, "axis": null},
  "y": {"field": "y", "type": "quantitative", "scale": {"domain": [0, 0.2], "nice": false, "zero": false}, "axis": null}}},
{"data": {"name": "curves"}, "transform": [{"filter": "datum.s === '+3.3'"}],
 "mark": {"type": "line", "color": "#ff0000", "strokeWidth": 2.5},
 "encoding": {
  "x": {"field": "x", "type": "quantitative", "scale": {"domain": [-2, 8], "nice": false, "zero": false}, "axis": null},
  "y": {"field": "y", "type": "quantitative", "scale": {"domain": [0, 0.2], "nice": false, "zero": false}, "axis": null}}},
{"data": {"name": "notes"},
 "mark": {"type": "text", "align": "left", "baseline": "alphabetic", "font": "Liberation Serif", "fontSize": 20},
 "encoding": {
  "x": {"field": "x", "type": "quantitative", "scale": {"domain": [-2, 8], "nice": false, "zero": false}, "axis": null},
  "y": {"field": "y", "type": "quantitative", "scale": {"domain": [0, 0.2], "nice": false, "zero": false}, "axis": null},
  "text": {"field": "t"},
  "color": {"field": "g", "type": "nominal", "legend": null,
   "scale": {"domain": ["+3.3", "-3.3", "+1.3", "-1.3", "0", "note"], "range": ["#ff0000", "#ff0000", "#33dd33", "#33dd33", "black", "black"]}}}}
]
}
